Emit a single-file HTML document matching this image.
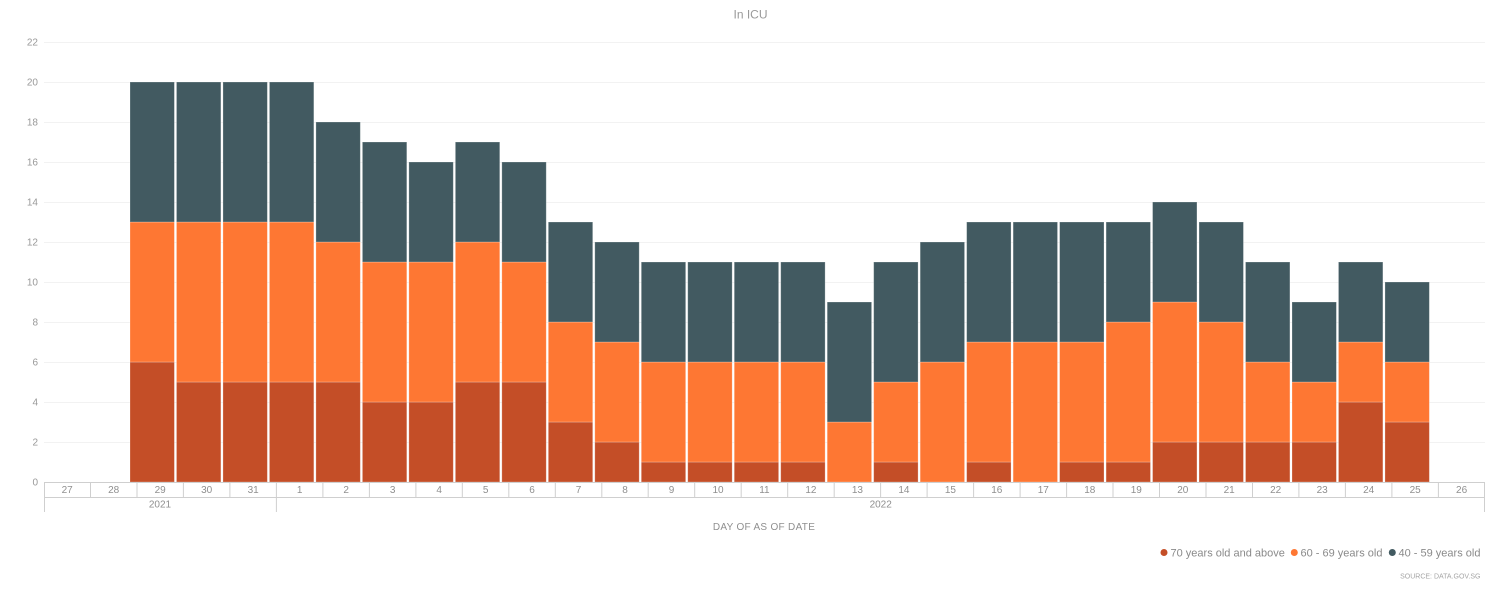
<!DOCTYPE html>
<html><head><meta charset="utf-8"><style>
html,body{margin:0;padding:0;background:#fff;}
svg{display:block;font-family:"Liberation Sans",Arial,sans-serif;}
</style></head><body>
<svg width="1498" height="602" viewBox="0 0 1498 602" xmlns="http://www.w3.org/2000/svg">
<text x="750.5" y="18.5" text-anchor="middle" font-size="12" fill="#9a9a9a">In ICU</text>
<g stroke="#f2f2f2" stroke-width="1">
<line x1="44" x2="1485" y1="42.5" y2="42.5"/><line x1="44" x2="1485" y1="82.5" y2="82.5"/><line x1="44" x2="1485" y1="122.5" y2="122.5"/><line x1="44" x2="1485" y1="162.5" y2="162.5"/><line x1="44" x2="1485" y1="202.5" y2="202.5"/><line x1="44" x2="1485" y1="242.5" y2="242.5"/><line x1="44" x2="1485" y1="282.5" y2="282.5"/><line x1="44" x2="1485" y1="322.5" y2="322.5"/><line x1="44" x2="1485" y1="362.5" y2="362.5"/><line x1="44" x2="1485" y1="402.5" y2="402.5"/><line x1="44" x2="1485" y1="442.5" y2="442.5"/>
</g>
<g font-size="10" fill="#999" text-anchor="end">
<text x="38" y="45.5">22</text><text x="38" y="85.5">20</text><text x="38" y="125.5">18</text><text x="38" y="165.5">16</text><text x="38" y="205.5">14</text><text x="38" y="245.5">12</text><text x="38" y="285.5">10</text><text x="38" y="325.5">8</text><text x="38" y="365.5">6</text><text x="38" y="405.5">4</text><text x="38" y="445.5">2</text><text x="38" y="485.5">0</text>
</g>
<g stroke="rgba(255,255,255,0.3)" stroke-width="0.8">
<g transform="translate(130,0)"><rect x="0" width="44.4" y="362" height="120" fill="#c44e27"/><rect x="0" width="44.4" y="222" height="140" fill="#fe7733"/><rect x="0" width="44.4" y="82" height="140" fill="#425a61"/></g>
<g transform="translate(176.48,0)"><rect x="0" width="44.4" y="382" height="100" fill="#c44e27"/><rect x="0" width="44.4" y="222" height="160" fill="#fe7733"/><rect x="0" width="44.4" y="82" height="140" fill="#425a61"/></g>
<g transform="translate(222.96,0)"><rect x="0" width="44.4" y="382" height="100" fill="#c44e27"/><rect x="0" width="44.4" y="222" height="160" fill="#fe7733"/><rect x="0" width="44.4" y="82" height="140" fill="#425a61"/></g>
<g transform="translate(269.44,0)"><rect x="0" width="44.4" y="382" height="100" fill="#c44e27"/><rect x="0" width="44.4" y="222" height="160" fill="#fe7733"/><rect x="0" width="44.4" y="82" height="140" fill="#425a61"/></g>
<g transform="translate(315.92,0)"><rect x="0" width="44.4" y="382" height="100" fill="#c44e27"/><rect x="0" width="44.4" y="242" height="140" fill="#fe7733"/><rect x="0" width="44.4" y="122" height="120" fill="#425a61"/></g>
<g transform="translate(362.4,0)"><rect x="0" width="44.4" y="402" height="80" fill="#c44e27"/><rect x="0" width="44.4" y="262" height="140" fill="#fe7733"/><rect x="0" width="44.4" y="142" height="120" fill="#425a61"/></g>
<g transform="translate(408.88,0)"><rect x="0" width="44.4" y="402" height="80" fill="#c44e27"/><rect x="0" width="44.4" y="262" height="140" fill="#fe7733"/><rect x="0" width="44.4" y="162" height="100" fill="#425a61"/></g>
<g transform="translate(455.36,0)"><rect x="0" width="44.4" y="382" height="100" fill="#c44e27"/><rect x="0" width="44.4" y="242" height="140" fill="#fe7733"/><rect x="0" width="44.4" y="142" height="100" fill="#425a61"/></g>
<g transform="translate(501.84,0)"><rect x="0" width="44.4" y="382" height="100" fill="#c44e27"/><rect x="0" width="44.4" y="262" height="120" fill="#fe7733"/><rect x="0" width="44.4" y="162" height="100" fill="#425a61"/></g>
<g transform="translate(548.32,0)"><rect x="0" width="44.4" y="422" height="60" fill="#c44e27"/><rect x="0" width="44.4" y="322" height="100" fill="#fe7733"/><rect x="0" width="44.4" y="222" height="100" fill="#425a61"/></g>
<g transform="translate(594.8,0)"><rect x="0" width="44.4" y="442" height="40" fill="#c44e27"/><rect x="0" width="44.4" y="342" height="100" fill="#fe7733"/><rect x="0" width="44.4" y="242" height="100" fill="#425a61"/></g>
<g transform="translate(641.28,0)"><rect x="0" width="44.4" y="462" height="20" fill="#c44e27"/><rect x="0" width="44.4" y="362" height="100" fill="#fe7733"/><rect x="0" width="44.4" y="262" height="100" fill="#425a61"/></g>
<g transform="translate(687.76,0)"><rect x="0" width="44.4" y="462" height="20" fill="#c44e27"/><rect x="0" width="44.4" y="362" height="100" fill="#fe7733"/><rect x="0" width="44.4" y="262" height="100" fill="#425a61"/></g>
<g transform="translate(734.24,0)"><rect x="0" width="44.4" y="462" height="20" fill="#c44e27"/><rect x="0" width="44.4" y="362" height="100" fill="#fe7733"/><rect x="0" width="44.4" y="262" height="100" fill="#425a61"/></g>
<g transform="translate(780.72,0)"><rect x="0" width="44.4" y="462" height="20" fill="#c44e27"/><rect x="0" width="44.4" y="362" height="100" fill="#fe7733"/><rect x="0" width="44.4" y="262" height="100" fill="#425a61"/></g>
<g transform="translate(827.2,0)"><rect x="0" width="44.4" y="422" height="60" fill="#fe7733"/><rect x="0" width="44.4" y="302" height="120" fill="#425a61"/></g>
<g transform="translate(873.68,0)"><rect x="0" width="44.4" y="462" height="20" fill="#c44e27"/><rect x="0" width="44.4" y="382" height="80" fill="#fe7733"/><rect x="0" width="44.4" y="262" height="120" fill="#425a61"/></g>
<g transform="translate(920.16,0)"><rect x="0" width="44.4" y="362" height="120" fill="#fe7733"/><rect x="0" width="44.4" y="242" height="120" fill="#425a61"/></g>
<g transform="translate(966.64,0)"><rect x="0" width="44.4" y="462" height="20" fill="#c44e27"/><rect x="0" width="44.4" y="342" height="120" fill="#fe7733"/><rect x="0" width="44.4" y="222" height="120" fill="#425a61"/></g>
<g transform="translate(1013.12,0)"><rect x="0" width="44.4" y="342" height="140" fill="#fe7733"/><rect x="0" width="44.4" y="222" height="120" fill="#425a61"/></g>
<g transform="translate(1059.6,0)"><rect x="0" width="44.4" y="462" height="20" fill="#c44e27"/><rect x="0" width="44.4" y="342" height="120" fill="#fe7733"/><rect x="0" width="44.4" y="222" height="120" fill="#425a61"/></g>
<g transform="translate(1106.08,0)"><rect x="0" width="44.4" y="462" height="20" fill="#c44e27"/><rect x="0" width="44.4" y="322" height="140" fill="#fe7733"/><rect x="0" width="44.4" y="222" height="100" fill="#425a61"/></g>
<g transform="translate(1152.56,0)"><rect x="0" width="44.4" y="442" height="40" fill="#c44e27"/><rect x="0" width="44.4" y="302" height="140" fill="#fe7733"/><rect x="0" width="44.4" y="202" height="100" fill="#425a61"/></g>
<g transform="translate(1199.04,0)"><rect x="0" width="44.4" y="442" height="40" fill="#c44e27"/><rect x="0" width="44.4" y="322" height="120" fill="#fe7733"/><rect x="0" width="44.4" y="222" height="100" fill="#425a61"/></g>
<g transform="translate(1245.52,0)"><rect x="0" width="44.4" y="442" height="40" fill="#c44e27"/><rect x="0" width="44.4" y="362" height="80" fill="#fe7733"/><rect x="0" width="44.4" y="262" height="100" fill="#425a61"/></g>
<g transform="translate(1292,0)"><rect x="0" width="44.4" y="442" height="40" fill="#c44e27"/><rect x="0" width="44.4" y="382" height="60" fill="#fe7733"/><rect x="0" width="44.4" y="302" height="80" fill="#425a61"/></g>
<g transform="translate(1338.48,0)"><rect x="0" width="44.4" y="402" height="80" fill="#c44e27"/><rect x="0" width="44.4" y="342" height="60" fill="#fe7733"/><rect x="0" width="44.4" y="262" height="80" fill="#425a61"/></g>
<g transform="translate(1384.96,0)"><rect x="0" width="44.4" y="422" height="60" fill="#c44e27"/><rect x="0" width="44.4" y="362" height="60" fill="#fe7733"/><rect x="0" width="44.4" y="282" height="80" fill="#425a61"/></g>
</g>
<g stroke="#cfcfcf" stroke-width="1">
<line x1="44" x2="1485" y1="482.5" y2="482.5"/>
<line x1="44" x2="1485" y1="497.5" y2="497.5"/>
<line x1="44.5" x2="44.5" y1="482" y2="512"/>
<line x1="276.4" x2="276.4" y1="482" y2="512"/>
<line x1="1484.5" x2="1484.5" y1="482" y2="512"/>
<line x1="90.5" x2="90.5" y1="482" y2="497"/><line x1="137" x2="137" y1="482" y2="497"/><line x1="183.4" x2="183.4" y1="482" y2="497"/><line x1="229.9" x2="229.9" y1="482" y2="497"/><line x1="322.9" x2="322.9" y1="482" y2="497"/><line x1="369.4" x2="369.4" y1="482" y2="497"/><line x1="415.9" x2="415.9" y1="482" y2="497"/><line x1="462.3" x2="462.3" y1="482" y2="497"/><line x1="508.8" x2="508.8" y1="482" y2="497"/><line x1="555.3" x2="555.3" y1="482" y2="497"/><line x1="601.8" x2="601.8" y1="482" y2="497"/><line x1="648.2" x2="648.2" y1="482" y2="497"/><line x1="694.7" x2="694.7" y1="482" y2="497"/><line x1="741.2" x2="741.2" y1="482" y2="497"/><line x1="787.7" x2="787.7" y1="482" y2="497"/><line x1="834.2" x2="834.2" y1="482" y2="497"/><line x1="880.6" x2="880.6" y1="482" y2="497"/><line x1="927.1" x2="927.1" y1="482" y2="497"/><line x1="973.6" x2="973.6" y1="482" y2="497"/><line x1="1020.1" x2="1020.1" y1="482" y2="497"/><line x1="1066.6" x2="1066.6" y1="482" y2="497"/><line x1="1113" x2="1113" y1="482" y2="497"/><line x1="1159.5" x2="1159.5" y1="482" y2="497"/><line x1="1206" x2="1206" y1="482" y2="497"/><line x1="1252.5" x2="1252.5" y1="482" y2="497"/><line x1="1298.9" x2="1298.9" y1="482" y2="497"/><line x1="1345.4" x2="1345.4" y1="482" y2="497"/><line x1="1391.9" x2="1391.9" y1="482" y2="497"/><line x1="1438.4" x2="1438.4" y1="482" y2="497"/>
</g>
<g font-size="10" fill="#8f8f8f" text-anchor="middle">
<text x="67.2" y="493">27</text><text x="113.7" y="493">28</text><text x="160.2" y="493">29</text><text x="206.7" y="493">30</text><text x="253.2" y="493">31</text><text x="299.6" y="493">1</text><text x="346.1" y="493">2</text><text x="392.6" y="493">3</text><text x="439.1" y="493">4</text><text x="485.6" y="493">5</text><text x="532" y="493">6</text><text x="578.5" y="493">7</text><text x="625" y="493">8</text><text x="671.5" y="493">9</text><text x="718" y="493">10</text><text x="764.4" y="493">11</text><text x="810.9" y="493">12</text><text x="857.4" y="493">13</text><text x="903.9" y="493">14</text><text x="950.4" y="493">15</text><text x="996.8" y="493">16</text><text x="1043.3" y="493">17</text><text x="1089.8" y="493">18</text><text x="1136.3" y="493">19</text><text x="1182.8" y="493">20</text><text x="1229.2" y="493">21</text><text x="1275.7" y="493">22</text><text x="1322.2" y="493">23</text><text x="1368.7" y="493">24</text><text x="1415.2" y="493">25</text><text x="1461.6" y="493">26</text>
<text x="160" y="507.5">2021</text><text x="880.7" y="507.5">2022</text>
<text x="764" y="530" letter-spacing="0.3">DAY OF AS OF DATE</text>
</g>
<g font-size="11" fill="#8a8a8a">
<circle cx="1164" cy="552.5" r="3.5" fill="#c44e27"/><text x="1170.5" y="556.5">70 years old and above</text>
<circle cx="1294.3" cy="552.5" r="3.5" fill="#fe7733"/><text x="1300.5" y="556.5">60 - 69 years old</text>
<circle cx="1392.3" cy="552.5" r="3.5" fill="#425a61"/><text x="1398.5" y="556.5">40 - 59 years old</text>
</g>
<text x="1480.5" y="578.5" font-size="7" fill="#a5a5a5" text-anchor="end">SOURCE: DATA.GOV.SG</text>
</svg>
</body></html>
